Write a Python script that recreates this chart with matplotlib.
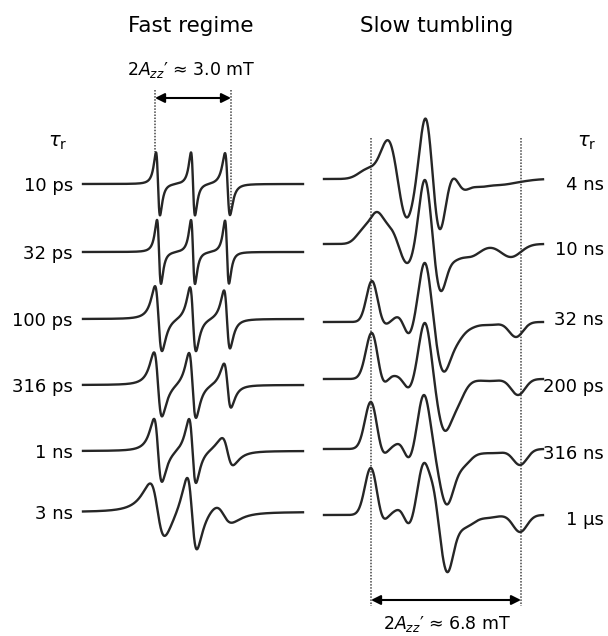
import numpy as np
import matplotlib.pyplot as plt

plt.rcParams['font.family'] = ['DejaVu Sans']
plt.rcParams['mathtext.fontset'] = 'dejavusans'

# ---------------- fast regime (left column) ----------------
fast_labels = ["10 ps", "32 ps", "100 ps", "316 ps", "1 ns", "3 ns"]
fast_base = [184, 252, 319, 385, 451, 512]
# low-field peak / high-field trough of each of the three lines
fast_peak_x = [[156, 191, 225], [157, 191, 225], [155, 190, 224],
               [154, 189, 224], [154, 189, 222], [150, 187, 215]]
fast_peak_h = [[31, 31, 30], [32, 32, 32], [32, 32, 32],
               [31, 32, 22], [32, 33, 14], [26, 40, 5]]
fast_trough_x = [[160, 195, 230], [161, 195, 229], [162, 196, 230],
                 [162, 196, 231], [162, 196, 233], [165, 197, 232]]
fast_trough_d = [[32, 32, 32], [32, 32, 31], [33, 32, 26],
                 [33, 33, 22], [31, 31, 13], [28, 32, 7]]

# ---------------- slow tumbling (right column) ----------------
slow_labels = ["4 ns", "10 ns", "32 ns", "200 ps", "316 ns", "1 μs"]
slow_label_y = [183, 248, 318, 385, 452, 518]
slow_base = [179, 244, 322, 379, 449, 515]
# feature positions, heights above baseline, widths
slow_x = [
    [368, 389, 406, 426, 439, 453, 463, 478, 500, 520],
    [363, 377, 392, 407, 425, 440, 453, 470, 492, 511],
    [372, 384, 391, 399, 409, 425, 443, 456, 469, 490, 516],
    [372, 382, 390, 398, 409, 425, 444, 457, 468, 490, 518],
    [371, 382, 390, 400, 409, 424, 446, 455, 465, 480, 497, 520],
    [371, 382, 390, 400, 409, 424, 434, 447, 457, 467, 488, 520],
]
slow_h = [
    [11, 38, -38, 60, -49, 0, -10, -8, -6, -3],
    [16, 32, 14, -19, 64, -46, -19, -13, -4, -13],
    [41, 0, 1, 4, -11, 59, -49, -25, -8, -3, -15],
    [46, 2, 1, 2, -8, 56, -51, -30, -8, -2, -16],
    [47, 0, 0, 4, -8, 54, -55, -36, -17, -5, -4, -16],
    [47, 0, 0, 4, -8, 52, 24, -57, -25, -12, -3, -17],
]
slow_w = [
    [9, 8, 7.5, 6, 6, 5, 6, 10, 12, 12],
    [7, 7, 7, 7.5, 6, 6, 7, 10, 11, 10],
    [5.5, 5, 5, 5, 5, 6, 7, 7, 8, 9, 7],
    [6, 5, 5, 5, 5, 6, 7, 7, 8, 9, 7],
    [6, 5, 5, 5, 5, 6, 7, 7, 7, 8, 9, 7],
    [6, 5, 5, 5, 5, 6, 4, 6, 6, 8, 9, 7],
]

LINE = "#262626"


def dlor(x, c, w):
    # first-derivative Lorentzian, normalised to +-1
    u = (x - c) / w
    return -2 * u / (1 + u ** 2) ** 2 / 0.6495


def fast_curve(x, px, ph, tx, td):
    px, tx = np.array(px, float), np.array(tx, float)
    c = (px + tx) / 2
    w = (tx - px) * np.sqrt(3) / 2
    kx = np.concatenate([px, tx])
    ky = np.concatenate([ph, -np.array(td, float)])
    B = np.array([dlor(kx, ci, wi) for ci, wi in zip(c, w)]).T
    amp = np.linalg.lstsq(B, ky, rcond=None)[0]
    return sum(a * dlor(x, ci, wi) for a, ci, wi in zip(amp, c, w))


def slow_curve(x, kx, kh, kw):
    kx, kw = np.array(kx, float), np.array(kw, float)
    G = np.exp(-(kx[:, None] - kx[None, :]) ** 2 / (2 * kw[None, :] ** 2))
    H = np.linalg.solve(G, np.array(kh, float))
    return sum(h * np.exp(-(x - c) ** 2 / (2 * s ** 2)) for h, c, s in zip(H, kx, kw))


fig = plt.figure(figsize=(6.08, 6.36), dpi=100)
ax = fig.add_axes([0, 0, 1, 1])
ax.set_xlim(0, 608)
ax.set_ylim(636, 0)
ax.axis('off')

# dotted guide lines
dot = dict(color="#444444", lw=1.1, linestyle=(0, (1, 1)), zorder=1)
ax.plot([155, 155], [90, 152], **dot)
ax.plot([231, 231], [90, 215], **dot)
ax.plot([371, 371], [138, 606], **dot)
ax.plot([521, 521], [138, 606], **dot)

xf = np.linspace(83, 303, 1200)
for i in range(len(fast_labels)):
    y = fast_base[i] - fast_curve(xf, fast_peak_x[i], fast_peak_h[i],
                                  fast_trough_x[i], fast_trough_d[i])
    ax.plot(xf, y, color=LINE, lw=1.7, zorder=2)
    ax.text(73, fast_base[i] + 7, fast_labels[i], ha='right', va='baseline', fontsize=13)

xs = np.linspace(324, 543, 1200)
for i in range(len(slow_labels)):
    y = slow_base[i] - slow_curve(xs, slow_x[i], slow_h[i], slow_w[i])
    ax.plot(xs, y, color=LINE, lw=1.7, zorder=2)
    ax.text(604, slow_label_y[i] + 7, slow_labels[i], ha='right', va='baseline', fontsize=13)

# titles and annotations
ax.text(191, 32, "Fast regime", ha='center', va='baseline', fontsize=15.5)
ax.text(437, 32, "Slow tumbling", ha='center', va='baseline', fontsize=15.5)
ax.text(58, 142, r"$\tau_\mathrm{r}$", ha='center', va='center', fontsize=14)
ax.text(587, 142, r"$\tau_\mathrm{r}$", ha='center', va='center', fontsize=14)

arrow = dict(arrowstyle="<|-|>", color="black", lw=1.5, mutation_scale=14,
             shrinkA=0, shrinkB=0)
ax.annotate("", xy=(155, 98), xytext=(231, 98), arrowprops=arrow)
ax.annotate("", xy=(371, 600), xytext=(521, 600), arrowprops=arrow)
ax.text(191, 75, r"$2A_{zz}$′ ≈ 3.0 mT", ha='center', va='baseline', fontsize=12.5)
ax.text(447, 629, r"$2A_{zz}$′ ≈ 6.8 mT", ha='center', va='baseline', fontsize=12.5)

fig.savefig("out.png", dpi=100, facecolor="white")
